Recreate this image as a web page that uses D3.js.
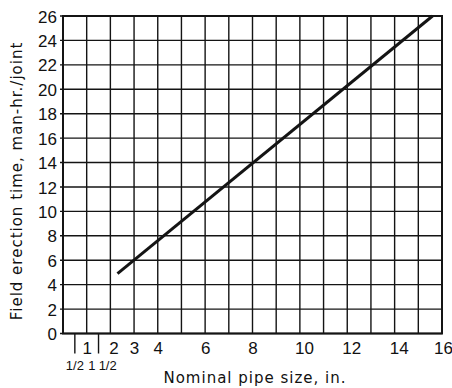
<!DOCTYPE html>
<html>
<head>
<meta charset="utf-8">
<script src="https://cdn.jsdelivr.net/npm/d3@7/dist/d3.min.js"></script>
<style>
  html, body { margin: 0; padding: 0; background: #fff; }
  svg { display: block; }
  text { font-family: "DejaVu Sans", "Liberation Sans", sans-serif; fill: #111; }
</style>
</head>
<body>
<svg id="chart" width="452" height="388"></svg>
<script>
// ---- data ----
const pipeSize = [2.3, 15.6];          // nominal pipe size, in.
const erectionHours = [4.9, 26];       // man-hr./joint
const xGridValues = [1,2,3,4,5,6,7,8,9,10,11,12,13,14,15,16];
const xTickValues = [1, 2, 3, 4, 6, 8, 10, 12, 14, 16];
const xTickLabels = ["1", "2", "3", "4", "6", "8", "10", "12", "14", "16"];
const fracTickValues = [0.5, 1.5];
const fracTickLabels = [["", "1/2"], ["1", "1/2"]];
const yTickValues = [0,2,4,6,8,10,12,14,16,18,20,22,24,26];
const xTitle = "Nominal pipe size, in.";
const yTitle = "Field erection time, man-hr./joint";

// ---- drawing ----
const svg = d3.select("#chart");
const mLeft = 63, mRight = 442, mTop = 16, mBottom = 333.5;
const x = d3.scaleLinear().domain([0, 16]).range([mLeft, mRight]);
const y = d3.scaleLinear().domain([0, 26]).range([mBottom, mTop]);
const ink = "#141414";
const numFont = "Liberation Sans, Arial, sans-serif";

// vertical grid
svg.append("g").selectAll("line").data(xGridValues).join("line")
  .attr("x1", d => x(d)).attr("x2", d => x(d))
  .attr("y1", mTop).attr("y2", mBottom)
  .attr("stroke", ink).attr("stroke-width", 1.4);

// horizontal grid (slightly extended left as ticks)
svg.append("g").selectAll("line").data(yTickValues).join("line")
  .attr("x1", mLeft - 3).attr("x2", mRight)
  .attr("y1", d => y(d)).attr("y2", d => y(d))
  .attr("stroke", ink).attr("stroke-width", 1.4);

// frame
svg.append("rect")
  .attr("x", mLeft).attr("y", mTop)
  .attr("width", mRight - mLeft).attr("height", mBottom - mTop)
  .attr("fill", "none").attr("stroke", ink).attr("stroke-width", 2);

// y axis labels
const yAxis = d3.axisLeft(y).tickValues(yTickValues).tickSize(0).tickPadding(6);
const gy = svg.append("g").attr("transform", `translate(${mLeft},0)`).call(yAxis);
gy.select(".domain").remove();
gy.selectAll("text").style("font-size", "17px").attr("fill", ink)
  .style("font-family", numFont).attr("dy", "0.36em");

// x axis labels
const xAxis = d3.axisBottom(x).tickValues(xTickValues)
  .tickFormat((d, i) => xTickLabels[i]).tickSize(0).tickPadding(8);
const gx = svg.append("g").attr("transform", `translate(0,${mBottom})`).call(xAxis);
gx.select(".domain").remove();
gx.selectAll("text").style("font-size", "17px").attr("fill", ink)
  .style("font-family", numFont)
  .attr("dx", (d) => d === 2 ? 3 : (d === 16 ? 1 : (d >= 10 ? 4 : 0)));

// fractional ticks below axis
svg.append("g").selectAll("line").data(fracTickValues).join("line")
  .attr("x1", d => x(d)).attr("x2", d => x(d))
  .attr("y1", mBottom).attr("y2", mBottom + 20)
  .attr("stroke", ink).attr("stroke-width", 1.4);

const frac = svg.append("g").selectAll("text").data(fracTickValues).join("text")
  .attr("x", (d, i) => x(d) + (i === 0 ? 0 : 4))
  .attr("y", mBottom + 36)
  .attr("text-anchor", "middle")
  .style("font-family", numFont)
  .style("font-size", "13px");
frac.each(function(d, i) {
  const t = d3.select(this);
  const parts = fracTickLabels[i];
  if (parts[0]) t.append("tspan").text(parts[0]).attr("dx", 0);
  t.append("tspan").text(parts[1]).attr("dx", parts[0] ? 4 : 0);
});

// data line
svg.append("path")
  .datum(pipeSize.map((p, i) => [p, erectionHours[i]]))
  .attr("d", d3.line().x(d => x(d[0])).y(d => y(d[1])))
  .attr("fill", "none").attr("stroke", ink).attr("stroke-width", 3);

// titles
svg.append("text")
  .attr("x", 255).attr("y", 383)
  .attr("text-anchor", "middle")
  .style("font-size", "15px").style("letter-spacing", "1px")
  .text(xTitle);

svg.append("text")
  .attr("transform", `translate(22,${181}) rotate(-90)`)
  .attr("text-anchor", "middle")
  .style("font-size", "15px").style("letter-spacing", "1px")
  .text(yTitle);
</script>
</body>
</html>
